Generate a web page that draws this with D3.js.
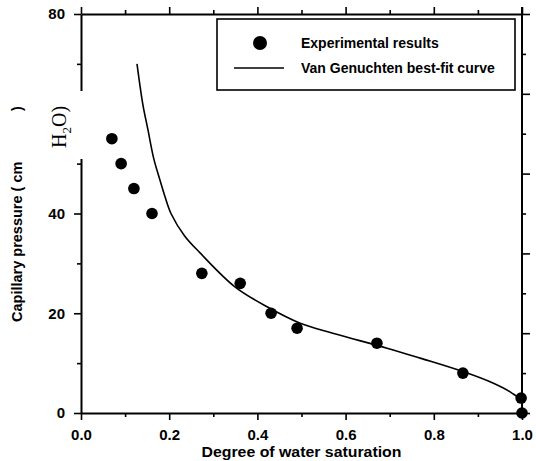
<!DOCTYPE html>
<html><head><meta charset="utf-8">
<script src="https://cdn.jsdelivr.net/npm/d3@7"></script>
<style>body{margin:0;background:#fff}svg{display:block}text{font-family:"Liberation Sans",Arial,sans-serif;font-weight:bold;fill:#000}</style>
</head><body>
<script>
const satExp = [0.07,0.091,0.12,0.161,0.274,0.361,0.431,0.49,0.671,0.866,0.998,1.0];
const presExp = [55,50,45,40,28,26,20,17,14,8,3,0];
const satFit = [0.127,0.14,0.152,0.165,0.179,0.19,0.204,0.235,0.27,0.349,0.422,0.497,0.571,0.694,0.769,0.866,0.934,0.977,0.998,1.0];
const presFit = [70,62,56.7,51,46.7,43.5,40,35.5,32.1,25.3,21.3,18.0,16.0,13.0,11.0,8.3,6.0,4.0,2.4,0];
const xTicks = [0,0.1,0.2,0.3,0.4,0.5,0.6,0.7,0.8,0.9,1.0];
const yTicks = [0,10,20,30,40,50,60,70,80];
const rTicks = [0,1,2,3,4,5,6,7,8,9,10];
const legendLabels = ["Experimental results","Van Genuchten best-fit curve"];

const W=536,H=461;
const svg=d3.select("body").append("svg").attr("width",W).attr("height",H);
const x=d3.scaleLinear().domain([0,1]).range([81,522]);
const y=d3.scaleLinear().domain([0,80]).range([413,14]);
const yr=d3.scaleLinear().domain([0,10]).range([413,14]);

const fmtX=d=>(Math.round(d*10)%2===0)?d.toFixed(1):"";
const fmtY=d=>(d%20===0)?String(d):"";

function styleAxis(g){
  g.select(".domain").attr("stroke","#000").attr("stroke-width",2);
  g.selectAll(".tick line").attr("stroke","#000").attr("stroke-width",1.6);
  g.selectAll("text").style("font-size","15px").style("font-weight","bold").style("font-family","Liberation Sans, Arial, sans-serif");
}
// bottom
const gb=svg.append("g").attr("transform","translate(0,413)")
  .call(d3.axisBottom(x).tickValues(xTicks).tickFormat(fmtX).tickSizeOuter(0).tickPadding(10));
gb.selectAll(".tick line").attr("y2",(d)=>Math.round(d*10)%2===0?7:4);
styleAxis(gb);
// top
const gt=svg.append("g").attr("transform","translate(0,14)")
  .call(d3.axisTop(x).tickValues(xTicks).tickFormat("").tickSizeOuter(0));
gt.selectAll(".tick line").attr("y2",(d)=>Math.round(d*10)%2===0?-7:-4);
styleAxis(gt);
// left
const gl=svg.append("g").attr("transform","translate(81,0)")
  .call(d3.axisLeft(y).tickValues(yTicks).tickFormat(fmtY).tickSizeOuter(0).tickPadding(10));
gl.selectAll(".tick line").attr("x2",(d)=>d%20===0?-7:-4);
styleAxis(gl);
// right
const gr=svg.append("g").attr("transform","translate(522,0)")
  .call(d3.axisRight(yr).tickValues(rTicks).tickFormat("").tickSizeOuter(0));
gr.selectAll(".tick line").attr("x2",(d)=>d%2===0?8:4);
styleAxis(gr);
gr.select(".domain").attr("d","M0,7V413");

// curve
const line=d3.line().curve(d3.curveCatmullRom.alpha(0.5)).x((d,i)=>x(satFit[i])).y((d,i)=>y(presFit[i]));
svg.append("path").datum(presFit).attr("d",line).attr("fill","none").attr("stroke","#000").attr("stroke-width",1.6);
// points
svg.append("g").selectAll("circle").data(presExp).join("circle")
  .attr("cx",(d,i)=>x(satExp[i])).attr("cy",d=>y(d)).attr("r",5.8).attr("fill","#000");

// legend
svg.append("rect").attr("x",217).attr("y",19).attr("width",298).attr("height",71)
  .attr("fill","#fff").attr("stroke","#000").attr("stroke-width",1.6);
svg.append("circle").attr("cx",260).attr("cy",43).attr("r",7).attr("fill","#000");
svg.append("line").attr("x1",234).attr("x2",284).attr("y1",68).attr("y2",68).attr("stroke","#000").attr("stroke-width",1.6);
svg.append("text").attr("x",301).attr("y",48).style("font-size","14px").text(legendLabels[0]);
svg.append("text").attr("x",301).attr("y",73).style("font-size","14px").text(legendLabels[1]);

// axis titles
svg.append("text").attr("x",301.5).attr("y",457).attr("text-anchor","middle").style("font-size","14px")
  .attr("textLength",200).attr("lengthAdjust","spacingAndGlyphs").text("Degree of water saturation");
svg.append("text").attr("transform","translate(22,322) rotate(-90)").attr("text-anchor","start").style("font-size","14.5px").text("Capillary pressure ( cm");
svg.append("text").attr("transform","translate(22,111) rotate(-90)").attr("text-anchor","start").style("font-size","14.5px").text(")");

// pasted white patch with serif H2O)
svg.append("rect").attr("x",26).attr("y",91).attr("width",60).attr("height",68).attr("fill","#fff");
const t=svg.append("text").attr("transform","translate(66,148) rotate(-90)")
  .style("font-family","Liberation Serif, Times New Roman, serif").style("font-weight","normal").style("font-size","20px");
t.append("tspan").text("H");
t.append("tspan").attr("dy",5).style("font-size","13px").text("2");
t.append("tspan").attr("dy",-5).text("O)");
</script>
</body></html>
